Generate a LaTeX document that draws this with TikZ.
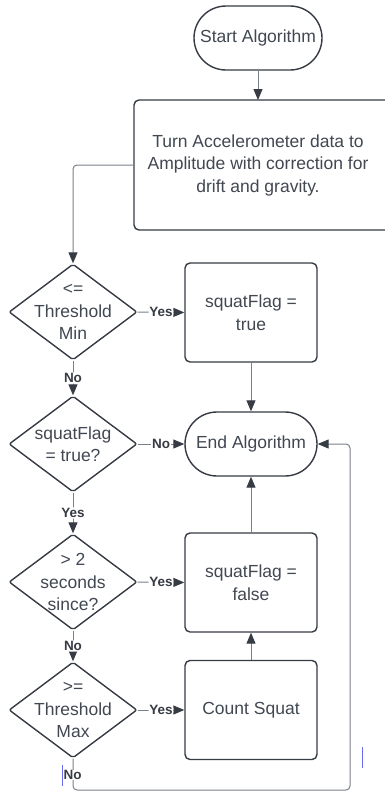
\documentclass[tikz,border=0pt]{standalone}
\usepackage{fontspec}
\setmainfont{Liberation Sans}
\usetikzlibrary{shapes.geometric,shapes.misc,arrows.meta}
\definecolor{edge}{HTML}{363B44}
\definecolor{ink}{HTML}{414852}
\definecolor{wire}{HTML}{7A808A}
\definecolor{cursor}{HTML}{6A6AF0}
\tikzset{
  base/.style={draw=edge, line width=1.4pt, text=ink, align=center,
    font=\fontsize{17.5}{22.5}\selectfont, inner sep=0pt},
  terminal/.style={base, rounded rectangle, minimum width=128pt, minimum height=64pt},
  stepbox/.style={base, rectangle, rounded corners=5pt, minimum width=132pt, minimum height=99pt},
  decision/.style={base, diamond, minimum width=128pt, minimum height=96pt,
    inner xsep=-40pt, inner ysep=-40pt, rounded corners=2pt},
  wireline/.style={draw=wire, line width=1pt, rounded corners=4pt},
  flow/.style={wireline, -{Triangle[length=11pt,width=9pt,color=edge]}},
  tag/.style={fill=white, text=edge, font=\fontsize{13.5}{14}\selectfont\bfseries, inner sep=0.8pt}
}
\begin{document}
\begin{tikzpicture}[x=1pt,y=-1pt]
\useasboundingbox (0,0) rectangle (385,793);
\clip (0,0) rectangle (385,793);
\fill[white] (0,0) rectangle (385,793);

% nodes
\node[terminal] (start) at (258,38) {Start Algorithm};
\draw[base, rounded corners=5pt] (134,100) rectangle (400,230);
\coordinate (procL) at (134,165);
\coordinate (procB) at (258,100);
\node[text=ink, align=center, font=\fontsize{17.5}{22.5}\selectfont] (proc) at (258,165)
  {Turn Accelerometer data to\\Amplitude with correction for\\drift and gravity.};

\node[decision] (dmin) at (73,312) {<=\\Threshold\\Min};
\node[stepbox] (flagT) at (251,312.5) {squatFlag =\\true};
\node[terminal, minimum width=132pt] (end) at (251,444) {End Algorithm};
\node[decision] (dflag) at (73,444) {squatFlag\\= true?};
\node[decision] (dsec) at (73,582) {> 2\\seconds\\since?};
\node[stepbox] (flagF) at (251,582.5) {squatFlag =\\false};
\node[decision] (dmax) at (73,710) {>=\\Threshold\\Max};
\node[stepbox] (count) at (251,710) {Count Squat};

\coordinate (loopA) at (73,790);
\coordinate (loopB) at (350,790);
\coordinate (loopC) at (350,444);
\coordinate (turn1) at (73,165);

% connectors
\draw[flow] (start.south) -- (procB);
\draw[flow] (procL) -- (turn1) -- (dmin.north);
\draw[flow] (dmin.east) -- node[tag]{Yes} (flagT.west);
\draw[flow] (flagT.south) -- (end.north);
\draw[flow] (dmin.south) -- node[tag, pos=0.5]{No} (dflag.north);
\draw[flow] (dflag.east) -- node[tag]{No} (end.west);
\draw[flow] (dflag.south) -- node[tag]{Yes} (dsec.north);
\draw[flow] (dsec.east) -- node[tag]{Yes} (flagF.west);
\draw[flow] (dsec.south) -- node[tag]{No} (dmax.north);
\draw[flow] (dmax.east) -- node[tag]{Yes} (count.west);
\draw[flow] (count.north) -- (flagF.south);
\draw[flow] (flagF.north) -- (end.south);
\draw[flow] (dmax.south) -- (loopA) -- (loopB) -- (loopC) -- (end.east);
\node[tag, anchor=west, inner sep=0.5pt] (nolab) at (63,775) {No};

% caret marks
\draw[cursor, line width=0.7pt] (62,765) -- (62,786);
\draw[cursor, line width=0.7pt] (362,747) -- (362,768);
\end{tikzpicture}
\end{document}
